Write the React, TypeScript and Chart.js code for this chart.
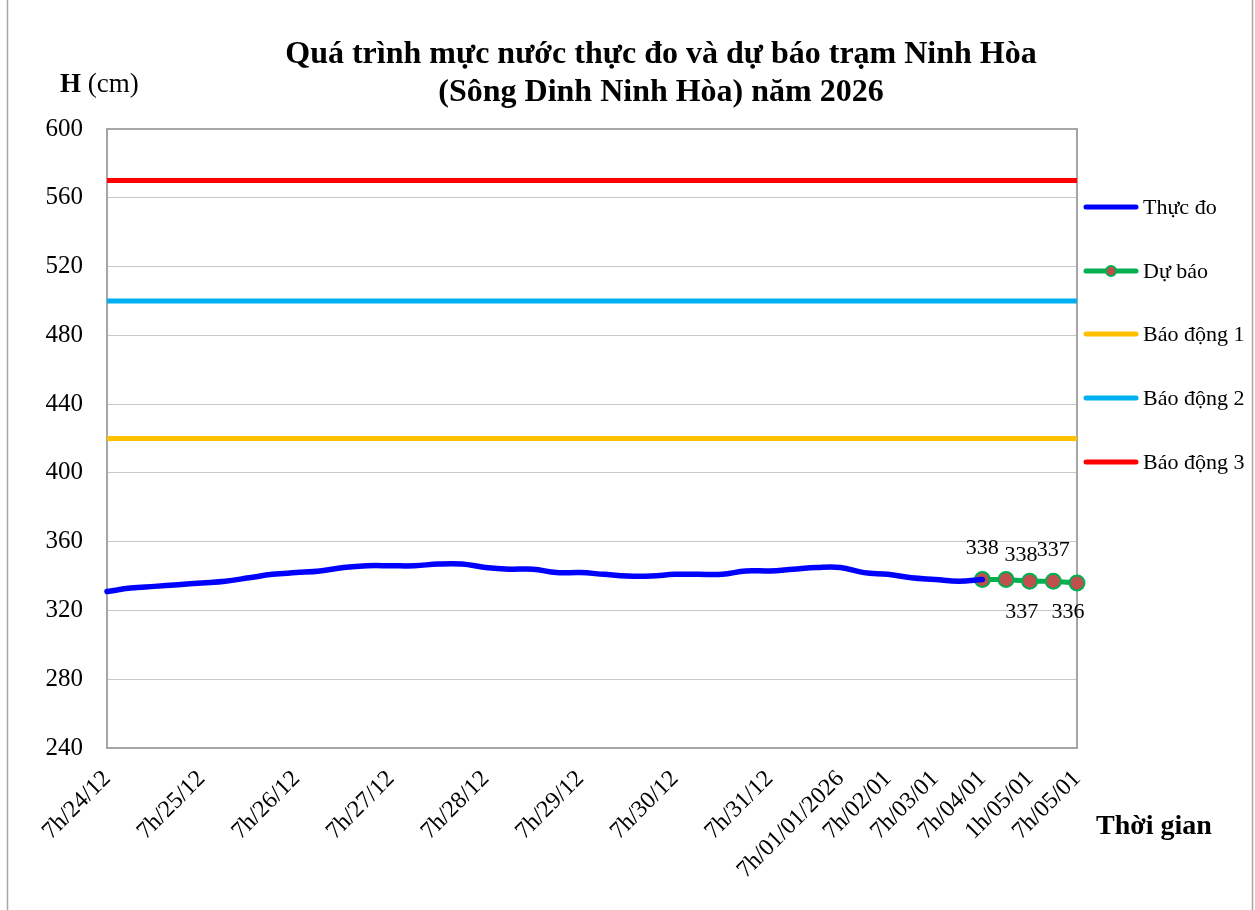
import React, { useEffect, useRef } from 'react';
import { Chart, registerables } from 'chart.js';

Chart.register(...registerables);

// ---- Data ----
const categories: string[] = [
  '7h/24/12', '', '', '',
  '7h/25/12', '', '', '',
  '7h/26/12', '', '', '',
  '7h/27/12', '', '', '',
  '7h/28/12', '', '', '',
  '7h/29/12', '', '', '',
  '7h/30/12', '', '', '',
  '7h/31/12', '', '',
  '7h/01/01/2026', '',
  '7h/02/01', '',
  '7h/03/01', '',
  '7h/04/01', '',
  '1h/05/01', '',
  '7h/05/01',
];

const observed: number[] = [
  331, 333, 334, 335, 336, 337, 339, 341, 342, 343,
  345, 346, 346, 346, 347, 347, 345, 344, 344, 342,
  342, 341, 340, 340, 341, 341, 341, 343, 343, 344,
  345, 345, 342, 341, 339, 338, 337, 338,
];

const forecast: number[] = [338, 338, 337, 337, 336];
const forecastStart = 37;

const alarmLevel1 = 420;
const alarmLevel2 = 500;
const alarmLevel3 = 570;

const yMin = 240;
const yMax = 600;
const yStep = 40;

const titleLines = ['Quá trình mực nước thực đo và dự báo trạm Ninh Hòa', '(Sông Dinh Ninh Hòa) năm 2026'];
const seriesNames = ['Thực đo', 'Dự báo', 'Báo động 1', 'Báo động 2', 'Báo động 3'];

const SERIF = '"Liberation Serif", "Times New Roman", serif';

export default function App() {
  const ref = useRef<HTMLCanvasElement | null>(null);

  useEffect(() => {
    if (!ref.current) return;
    const obsData = categories.map((_, i) => (i < observed.length ? observed[i] : null));
    const fcData = categories.map((_, i) =>
      i >= forecastStart && i - forecastStart < forecast.length ? forecast[i - forecastStart] : null
    );
    const constLine = (v: number) => categories.map(() => v);

    const labelOffsets = [
      [0, -31],
      [15, -24],
      [-8, 31],
      [0, -31],
      [-9, 29],
    ];

    const decor = {
      id: 'decor',
      beforeDraw(chart: any) {
        const ctx = chart.ctx;
        ctx.save();
        ctx.fillStyle = '#ffffff';
        ctx.fillRect(0, 0, chart.width, chart.height);
        ctx.strokeStyle = '#a6a6a6';
        ctx.lineWidth = 1.5;
        ctx.strokeRect(7.5, -5, 1245, 930);
        ctx.restore();
      },
      beforeDatasetsDraw(chart: any) {
        const { ctx, chartArea } = chart;
        ctx.save();
        ctx.strokeStyle = '#a6a6a6';
        ctx.lineWidth = 2;
        ctx.strokeRect(chartArea.left, chartArea.top, chartArea.right - chartArea.left, chartArea.bottom - chartArea.top);
        ctx.restore();
      },
      afterDraw(chart: any) {
        const ctx = chart.ctx;
        ctx.save();
        ctx.fillStyle = '#000';
        // title
        ctx.font = `bold 32px ${SERIF}`;
        ctx.textAlign = 'center';
        ctx.textBaseline = 'alphabetic';
        ctx.fillText(titleLines[0], 661, 63);
        ctx.fillText(titleLines[1], 661, 101);
        // y title
        ctx.textAlign = 'left';
        ctx.font = `bold 27px ${SERIF}`;
        ctx.fillText('H', 60, 92);
        const hw = ctx.measureText('H ').width;
        ctx.font = `27px ${SERIF}`;
        ctx.fillText('(cm)', 60 + hw, 92);
        // x title
        ctx.font = `bold 28px ${SERIF}`;
        ctx.textAlign = 'center';
        ctx.fillText('Thời gian', 1154, 834);

        // legend
        const legendY = [207, 271, 334, 398, 462];
        const order = [0, 1, 2, 3, 4];
        ctx.font = `22px ${SERIF}`;
        ctx.textAlign = 'left';
        ctx.textBaseline = 'middle';
        order.forEach((di, k) => {
          const ds = chart.data.datasets[di];
          const y = legendY[k];
          ctx.strokeStyle = ds.borderColor;
          ctx.lineWidth = 5;
          ctx.lineCap = 'round';
          ctx.beginPath();
          ctx.moveTo(1086, y);
          ctx.lineTo(1136, y);
          ctx.stroke();
          if (ds.pointRadius && ds.pointRadius > 0) {
            ctx.beginPath();
            ctx.arc(1111, y, 5, 0, Math.PI * 2);
            ctx.fillStyle = ds.pointBackgroundColor;
            ctx.fill();
            ctx.lineWidth = 2;
            ctx.strokeStyle = ds.pointBorderColor;
            ctx.stroke();
          }
          ctx.fillStyle = '#000';
          ctx.fillText(seriesNames[di], 1143, y + 1);
        });

        // data labels for forecast
        const meta = chart.getDatasetMeta(1);
        ctx.font = `22px ${SERIF}`;
        ctx.textAlign = 'center';
        ctx.textBaseline = 'middle';
        ctx.fillStyle = '#000';
        for (let k = 0; k < forecast.length; k++) {
          const el = meta.data[forecastStart + k];
          if (!el) continue;
          const [dx, dy] = labelOffsets[k];
          ctx.fillText(String(forecast[k]), el.x + dx, el.y + dy);
        }
        ctx.restore();
      },
    };

    const chart = new Chart(ref.current, {
      type: 'line',
      data: {
        labels: categories,
        datasets: [
          {
            label: seriesNames[0],
            data: obsData,
            borderColor: '#0000FF',
            backgroundColor: '#0000FF',
            borderWidth: 5.5,
            pointRadius: 0,
            tension: 0.4,
            borderCapStyle: 'round',
            spanGaps: false,
            clip: false as any,
          },
          {
            label: seriesNames[1],
            data: fcData,
            borderColor: '#00B050',
            backgroundColor: '#00B050',
            borderWidth: 5,
            pointRadius: 7.5,
            pointBackgroundColor: '#C0504D',
            pointBorderColor: '#00B050',
            pointBorderWidth: 2,
            tension: 0,
            clip: false as any,
          },
          {
            label: seriesNames[2],
            data: constLine(alarmLevel1),
            borderColor: '#FFC000',
            backgroundColor: '#FFC000',
            borderWidth: 5,
            pointRadius: 0,
          },
          {
            label: seriesNames[3],
            data: constLine(alarmLevel2),
            borderColor: '#00B0F0',
            backgroundColor: '#00B0F0',
            borderWidth: 5,
            pointRadius: 0,
          },
          {
            label: seriesNames[4],
            data: constLine(alarmLevel3),
            borderColor: '#FF0000',
            backgroundColor: '#FF0000',
            borderWidth: 5,
            pointRadius: 0,
          },
        ],
      },
      options: {
        responsive: false,
        animation: false,
        devicePixelRatio: 1,
        layout: { padding: { left: 27, right: 178, top: 129, bottom: 22 } },
        plugins: {
          legend: { display: false },
          title: { display: false },
          tooltip: { enabled: false },
        },
        scales: {
          x: {
            type: 'category',
            offset: false,
            grid: { display: false, drawTicks: false },
            border: { display: false },
            ticks: {
              autoSkip: false,
              maxRotation: 45,
              minRotation: 45,
              padding: 17,
              color: '#000',
              font: { family: SERIF, size: 24 },
            },
            afterFit(scale: any) {
              scale.height = 140;
              scale.paddingLeft = 0;
              scale.paddingRight = 0;
            },
          },
          y: {
            min: yMin,
            max: yMax,
            grid: { color: '#c8c8c8', lineWidth: 1, drawTicks: false },
            border: { display: false },
            ticks: {
              stepSize: yStep,
              padding: 24,
              color: '#000',
              font: { family: SERIF, size: 25 },
            },
            afterFit(scale: any) {
              scale.width = 80;
              scale.paddingTop = 0;
              scale.paddingBottom = 0;
            },
          },
        },
      },
      plugins: [decor],
    });
    return () => chart.destroy();
  }, []);

  return (
    <div style={{ position: 'fixed', left: 0, top: 0, width: 1255, height: 910, background: '#fff' }}>
      <canvas ref={ref} width={1255} height={910} style={{ display: 'block' }} />
    </div>
  );
}
